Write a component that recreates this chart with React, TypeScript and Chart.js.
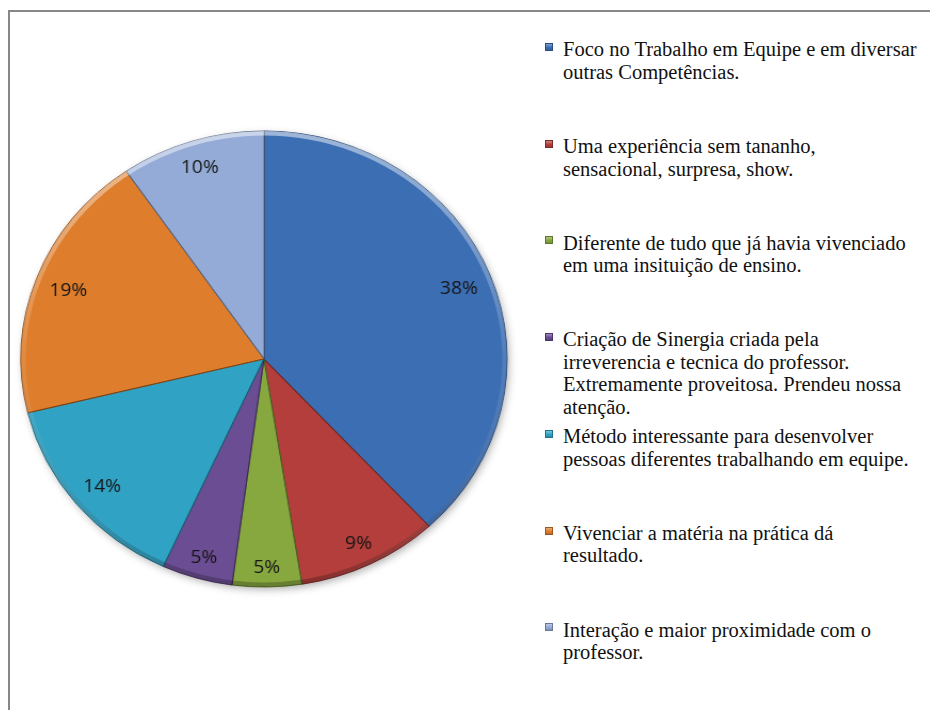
import React, { useEffect, useRef } from 'react';
import { Chart, registerables } from 'chart.js';

Chart.register(...registerables);

// ---- data ----
const categories: string[][] = [
  ['Foco no Trabalho em Equipe e em diversar', 'outras Competências.'],
  ['Uma experiência sem tananho,', 'sensacional, surpresa, show.'],
  ['Diferente de tudo que já havia vivenciado', 'em uma insituição de ensino.'],
  [
    'Criação de Sinergia criada pela',
    'irreverencia e tecnica do professor.',
    'Extremamente proveitosa. Prendeu nossa',
    'atenção.',
  ],
  ['Método interessante para desenvolver', 'pessoas diferentes trabalhando em equipe.'],
  ['Vivenciar a matéria na prática dá', 'resultado.'],
  ['Interação e maior proximidade com o', 'professor.'],
];
const shares: number[] = [38.1, 9.4, 4.6, 4.7, 14.4, 19.2, 9.6];
const colors: string[] = ['#3C6EB4', '#B33E3B', '#87A83F', '#6B4D94', '#30A3C5', '#DE7D2B', '#94ABD7'];

// ---- layout constants ----
const CX = 264;
const CY = 359;
const RY = 228;
const STRETCH = 1.066;
const CANVAS = 500;

const shadowPlugin = {
  id: 'pieShadow',
  beforeDatasetsDraw(chart: any) {
    const meta = chart.getDatasetMeta(0);
    const el = meta.data[0];
    if (!el) return;
    const { x, y, outerRadius } = el.getProps(['x', 'y', 'outerRadius'], true);
    const ctx = chart.ctx;
    ctx.save();
    ctx.shadowColor = 'rgba(0,0,0,0.35)';
    ctx.shadowBlur = 8;
    ctx.shadowOffsetX = 2;
    ctx.shadowOffsetY = 3;
    ctx.fillStyle = '#ffffff';
    ctx.beginPath();
    ctx.arc(x, y, outerRadius - 1, 0, Math.PI * 2);
    ctx.fill();
    ctx.restore();
  },
};

const bevelPlugin = {
  id: 'pieBevel',
  afterDatasetsDraw(chart: any) {
    const meta = chart.getDatasetMeta(0);
    const ctx = chart.ctx;
    meta.data.forEach((el: any) => {
      const { x, y, startAngle, endAngle, outerRadius } = el.getProps(
        ['x', 'y', 'startAngle', 'endAngle', 'outerRadius'],
        true
      );
      ctx.save();
      ctx.beginPath();
      ctx.moveTo(x, y);
      ctx.arc(x, y, outerRadius, startAngle, endAngle);
      ctx.closePath();
      ctx.clip();
      const g = ctx.createLinearGradient(0, y - outerRadius, 0, y + outerRadius);
      g.addColorStop(0, 'rgba(255,255,255,0.5)');
      g.addColorStop(0.5, 'rgba(255,255,255,0.1)');
      g.addColorStop(1, 'rgba(0,0,0,0.25)');
      ctx.strokeStyle = g;
      ctx.lineWidth = 9;
      ctx.beginPath();
      ctx.arc(x, y, outerRadius, 0, Math.PI * 2);
      ctx.stroke();
      ctx.lineWidth = 1.2;
      ctx.strokeStyle = 'rgba(0,0,0,0.3)';
      ctx.beginPath();
      ctx.moveTo(x, y);
      ctx.lineTo(x + Math.cos(startAngle) * outerRadius, y + Math.sin(startAngle) * outerRadius);
      ctx.stroke();
      ctx.restore();
    });
  },
};

const labelPlugin = {
  id: 'insideEndLabels',
  afterDatasetsDraw(chart: any) {
    const ctx = chart.ctx;
    const meta = chart.getDatasetMeta(0);
    const data = chart.data.datasets[0].data as number[];
    const total = data.reduce((a, b) => a + b, 0);
    ctx.save();
    ctx.font = '18px "Open Sans"';
    ctx.fillStyle = '#161616';
    ctx.textAlign = 'center';
    ctx.textBaseline = 'middle';
    meta.data.forEach((el: any, i: number) => {
      const { x, y, startAngle, endAngle, outerRadius } = el.getProps(
        ['x', 'y', 'startAngle', 'endAngle', 'outerRadius'],
        true
      );
      const mid = (startAngle + endAngle) / 2;
      const text = Math.round((data[i] / total) * 100 + 1e-6) + '%';
      const hw = ctx.measureText(text).width / 2;
      const hh = 8.5;
      const ext = Math.abs(Math.cos(mid)) * hw + Math.abs(Math.sin(mid)) * hh;
      const d = outerRadius - 12 - ext;
      ctx.fillText(text, x + Math.cos(mid) * d, y + Math.sin(mid) * d + 2);
    });
    ctx.restore();
  },
};

function shade(hex: string, f: number): string {
  const n = parseInt(hex.slice(1), 16);
  let r = (n >> 16) & 255, g = (n >> 8) & 255, b = n & 255;
  if (f >= 0) {
    r = Math.round(r + (255 - r) * f);
    g = Math.round(g + (255 - g) * f);
    b = Math.round(b + (255 - b) * f);
  } else {
    r = Math.round(r * (1 + f));
    g = Math.round(g * (1 + f));
    b = Math.round(b * (1 + f));
  }
  return `rgb(${r},${g},${b})`;
}

export default function App() {
  const ref = useRef<HTMLCanvasElement | null>(null);

  useEffect(() => {
    if (!ref.current) return;
    const chart = new Chart(ref.current, {
      type: 'pie',
      data: {
        labels: categories.map((c) => c.join(' ')),
        datasets: [
          {
            data: shares,
            backgroundColor: colors,
            borderColor: colors.map((c) => shade(c, -0.35)),
            borderWidth: 1,
            radius: RY,
          } as any,
        ],
      },
      options: {
        responsive: false,
        maintainAspectRatio: false,
        animation: false,
        layout: { padding: 0 },
        plugins: {
          legend: { display: false },
          tooltip: { enabled: false },
        },
      },
      plugins: [shadowPlugin, bevelPlugin, labelPlugin],
    });
    return () => chart.destroy();
  }, []);

  const FS = 20.5;
  const LH = 22.5;
  const baseOffset = LH / 2 + 0.3375 * FS;

  return (
    <div>
      <div
        style={{
          position: 'fixed',
          left: 8,
          top: 10,
          width: 922,
          height: 700,
          borderTop: '2px solid #878787',
          borderLeft: '2px solid #878787',
          boxSizing: 'border-box',
          background: '#ffffff',
        }}
      />
      <canvas
        ref={ref}
        width={CANVAS}
        height={CANVAS}
        style={{
          position: 'fixed',
          left: CX - CANVAS / 2,
          top: CY - CANVAS / 2,
          width: CANVAS,
          height: CANVAS,
          transform: `scaleX(${STRETCH})`,
          transformOrigin: `${CANVAS / 2}px ${CANVAS / 2}px`,
        }}
      />
      {categories.map((lines, i) => {
        const baseline = 56.5 + i * 96.7;
        const c = colors[i];
        return (
          <React.Fragment key={i}>
            <div
              style={{
                position: 'fixed',
                left: 545,
                top: baseline - 13.5,
                width: 8,
                height: 8,
                boxSizing: 'border-box',
                background: `linear-gradient(to bottom, ${shade(c, 0.35)}, ${c} 55%, ${shade(c, -0.15)})`,
                border: `1px solid ${shade(c, -0.3)}`,
              }}
            />
            <div
              style={{
                position: 'fixed',
                left: 563,
                top: baseline - baseOffset,
                fontFamily: '"Liberation Serif", "Times New Roman", serif',
                fontSize: FS,
                lineHeight: `${LH}px`,
                color: '#111111',
                whiteSpace: 'nowrap',
              }}
            >
              {lines.map((l, j) => (
                <div key={j}>{l}</div>
              ))}
            </div>
          </React.Fragment>
        );
      })}
    </div>
  );
}
